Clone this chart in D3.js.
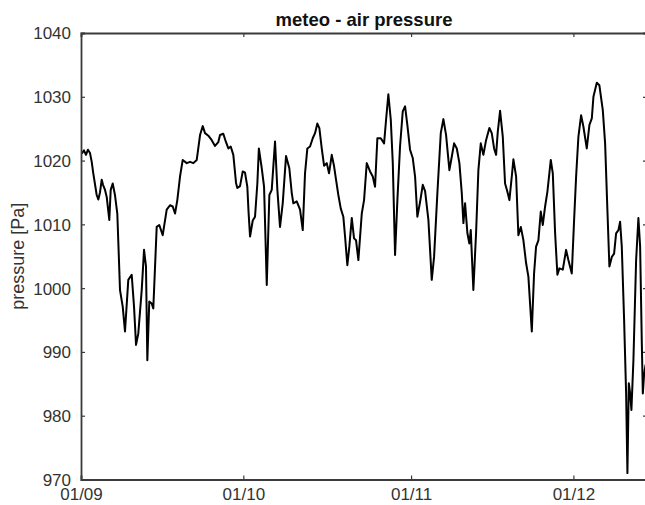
<!DOCTYPE html>
<html>
<head>
<meta charset="utf-8">
<script src="https://cdn.jsdelivr.net/npm/d3@7"></script>
<style>
  html, body { margin: 0; padding: 0; background: #fff; }
  svg { display: block; }
  text { font-family: "Liberation Sans", Arial, Helvetica, sans-serif; }
</style>
</head>
<body>
<svg id="chart" width="645" height="505"></svg>
<script>
// Air pressure record: fractional days since 1 September, and pressure readings
const days = [
  0.13, 0.55, 0.92, 1.29, 1.66, 1.98, 2.27, 2.90, 3.20, 3.51, 3.83, 4.07, 4.44, 4.75,
  5.23, 5.49, 5.86, 6.28, 6.71, 7.21, 7.71, 8.13, 8.74, 9.37, 9.80, 10.17, 10.59, 11.22,
  11.65, 12.01, 12.26, 12.62, 13.07, 13.36, 13.99, 14.47, 15.10, 15.84, 16.45, 16.95,
  17.38, 17.80, 18.30, 18.80, 19.54, 20.15, 20.76, 21.39, 22.00, 22.50, 22.92, 23.53,
  24.16, 24.77, 25.38, 25.69, 26.30, 26.75, 27.23, 27.67, 28.15, 28.65, 28.89, 29.39,
  29.89, 30.31, 30.74, 30.96, 31.24, 31.74, 32.16, 32.59, 32.87, 33.40, 33.83, 34.33,
  34.81, 35.25, 35.86, 36.29, 36.78, 37.28, 37.89, 38.50, 38.95, 39.24, 39.87, 40.48,
  40.98, 41.40, 41.83, 42.33, 42.83, 43.25, 43.68, 44.05, 44.49, 44.92, 45.42, 45.84,
  46.34, 46.77, 47.13, 47.56, 48.00, 48.48, 48.80, 49.22, 49.59, 50.04, 50.46, 50.83,
  51.26, 51.89, 52.31, 52.81, 53.42, 53.92, 54.34, 54.77, 55.40, 56.01, 56.38, 56.80,
  57.25, 57.62, 58.04, 58.47, 58.96, 59.46, 59.89, 60.31, 60.81, 61.31, 61.74, 62.16,
  62.66, 63.16, 63.59, 64.20, 64.82, 65.25, 65.86, 66.49, 66.97, 67.47, 68.08, 68.52,
  68.95, 69.45, 69.93, 70.37, 70.67, 70.98, 71.41, 71.77, 72.03, 72.51, 73.01, 73.44,
  73.88, 74.36, 74.86, 75.47, 75.91, 76.34, 76.71, 77.02, 77.45, 77.95, 78.37, 78.80,
  79.17, 79.61, 79.91, 80.41, 80.83, 81.28, 81.76, 82.26, 82.68, 83.31, 83.73, 84.10,
  84.53, 84.97, 85.34, 85.77, 86.19, 86.82, 87.19, 87.62, 88.04, 88.41, 89.04, 89.65,
  90.07, 90.70, 91.13, 91.50, 91.92, 92.42, 92.85, 93.47, 93.96, 94.40, 94.70, 95.32,
  95.80, 96.43, 96.86, 97.28, 97.65, 98.10, 98.52, 98.89, 99.32, 99.63, 99.94, 100.37,
  100.74, 100.98, 101.24, 101.48, 101.72, 102.09, 102.59, 103.01, 103.33, 103.64,
  103.83, 104.07, 104.34
];
const pressure = [
  1021.1, 1021.6, 1020.9, 1021.7, 1021.2, 1019.8, 1018.0, 1014.6, 1013.9, 1015.0, 1017.0, 1016.2, 1015.4, 1014.3,
  1010.7, 1015.4, 1016.4, 1014.6, 1011.7, 999.7, 997.1, 993.2, 1001.3, 1002.1, 997.1, 991.1, 992.9, 999.7,
  1006.0, 1003.4, 988.7, 997.9, 997.6, 996.8, 1009.6, 1009.9, 1008.3, 1012.3, 1013.0, 1012.8,
  1011.7, 1013.8, 1017.5, 1020.1, 1019.6, 1019.8, 1019.6, 1020.1, 1024.0, 1025.4, 1024.3, 1023.9,
  1023.2, 1022.3, 1022.9, 1024.0, 1024.2, 1023.0, 1021.9, 1022.2, 1020.9, 1016.5, 1015.7, 1016.0,
  1018.3, 1018.1, 1015.9, 1012.0, 1008.1, 1010.6, 1011.2, 1016.4, 1021.9, 1018.8, 1015.9, 1000.5,
  1014.6, 1015.4, 1023.0, 1015.4, 1009.6, 1013.3, 1020.7, 1018.8, 1014.9, 1013.3, 1013.6, 1012.3,
  1009.1, 1018.0, 1021.9, 1022.2, 1023.5, 1024.3, 1025.8, 1025.1, 1021.9, 1019.2, 1019.6, 1018.0,
  1020.9, 1019.1, 1017.0, 1014.6, 1012.5, 1011.2, 1008.1, 1003.6, 1006.5, 1011.0, 1007.8, 1007.5,
  1004.4, 1011.7, 1013.8, 1019.6, 1018.3, 1017.5, 1015.9, 1023.5, 1023.5, 1022.7, 1026.4, 1030.4,
  1026.4, 1019.6, 1005.2, 1013.8, 1022.2, 1027.7, 1028.5, 1025.6, 1021.7, 1020.4, 1017.5, 1011.2,
  1013.5, 1016.2, 1015.2, 1010.7, 1001.3, 1004.9, 1014.9, 1024.3, 1026.5, 1024.0, 1018.5, 1020.6,
  1022.7, 1021.9, 1019.6, 1014.9, 1010.2, 1013.3, 1008.6, 1007.0, 1009.1, 999.7, 1008.6, 1018.5,
  1022.7, 1020.9, 1023.2, 1025.1, 1024.3, 1021.9, 1020.9, 1024.5, 1027.8, 1023.7, 1016.4, 1015.1,
  1013.8, 1017.5, 1020.2, 1017.5, 1008.3, 1009.6, 1007.5, 1003.9, 1001.8, 993.2, 1002.3, 1006.5,
  1007.5, 1012.0, 1009.9, 1012.8, 1015.1, 1020.1, 1018.0, 1008.6, 1002.1, 1003.1, 1002.9, 1006.0,
  1004.4, 1002.3, 1010.7, 1017.5, 1023.7, 1027.1, 1025.3, 1021.9, 1025.6, 1026.6, 1030.0, 1032.2,
  1031.8, 1027.9, 1022.7, 1012.3, 1003.4, 1004.9, 1005.4, 1008.6, 1009.1, 1010.4, 1006.5, 995.0,
  983.5, 971.0, 985.1, 983.5, 980.9, 988.7, 1004.4, 1011.0, 1006.5, 991.4,
  983.5, 986.6, 988.0
];

// Axis ticks
const yTicks = [970, 980, 990, 1000, 1010, 1020, 1030, 1040];
const xTickDates = ["2019-09-01", "2019-10-01", "2019-11-01", "2019-12-01"];
const xTickLabels = ["01/09", "01/10", "01/11", "01/12"];

const titleText = "meteo - air pressure";
const yLabelText = "pressure [Pa]";

const start = new Date(2019, 8, 1);
const dayMs = 86400000;
const toDate = d => new Date(start.getTime() + d * dayMs);
const parseDay = s => { const [yy, mm, dd] = s.split("-").map(Number); return new Date(yy, mm - 1, dd); };

const plot = { left: 81, top: 33, right: 647, bottom: 479.5 };

const x = d3.scaleTime()
  .domain([start, toDate(104.6)])
  .range([plot.left, plot.right]);
const y = d3.scaleLinear()
  .domain([970, 1040])
  .range([plot.bottom, plot.top]);

const svg = d3.select("#chart");
const axisColor = "#3a3a3a";
const textColor = "#333";
const fontSize = 17;
const tickLen = 4;

// Data line
const series = days.map((d, i) => ({ t: toDate(d), v: pressure[i] }));
svg.append("path")
  .datum(series)
  .attr("fill", "none")
  .attr("stroke", "#000")
  .attr("stroke-width", 2)
  .attr("stroke-linejoin", "round")
  .attr("d", d3.line().x(d => x(d.t)).y(d => y(d.v)));

// Left axis (inward ticks)
const axLeft = svg.append("g").attr("transform", `translate(${plot.left},0)`)
  .call(d3.axisLeft(y).tickValues(yTicks).tickSize(-tickLen).tickPadding(tickLen + 6).tickFormat(d3.format("d")));
// Right axis (ticks only)
const axRight = svg.append("g").attr("transform", `translate(${plot.right},0)`)
  .call(d3.axisRight(y).tickValues(yTicks).tickSize(-tickLen).tickFormat(""));
// Bottom axis
const xTicks = xTickDates.map(parseDay);
const axBottom = svg.append("g").attr("transform", `translate(0,${plot.bottom})`)
  .call(d3.axisBottom(x).tickValues(xTicks).tickSize(-tickLen).tickPadding(tickLen + 5)
    .tickFormat((d, i) => xTickLabels[i]));
// Top axis (ticks only)
const axTop = svg.append("g").attr("transform", `translate(0,${plot.top})`)
  .call(d3.axisTop(x).tickValues(xTicks).tickSize(-tickLen).tickFormat(""));

[axLeft, axRight, axBottom, axTop].forEach(g => {
  g.select(".domain").attr("stroke", axisColor).attr("stroke-width", 1.8);
  g.selectAll(".tick line").attr("stroke", axisColor).attr("stroke-width", 1.2);
  g.selectAll(".tick text")
    .attr("fill", textColor)
    .style("font-size", fontSize + "px");
});
axLeft.selectAll(".tick text").attr("dy", "0.35em");
axBottom.selectAll(".tick text").attr("dy", "0.68em");

// Title
svg.append("text")
  .attr("x", (plot.left + plot.right) / 2)
  .attr("y", 26)
  .attr("text-anchor", "middle")
  .attr("font-weight", "bold")
  .attr("fill", "#111")
  .style("font-size", "18.5px")
  .text(titleText);

// Y-axis label
svg.append("text")
  .attr("transform", `translate(24,${(plot.top + plot.bottom) / 2}) rotate(-90)`)
  .attr("text-anchor", "middle")
  .attr("fill", textColor)
  .style("font-size", "18px")
  .text(yLabelText);
</script>
</body>
</html>
